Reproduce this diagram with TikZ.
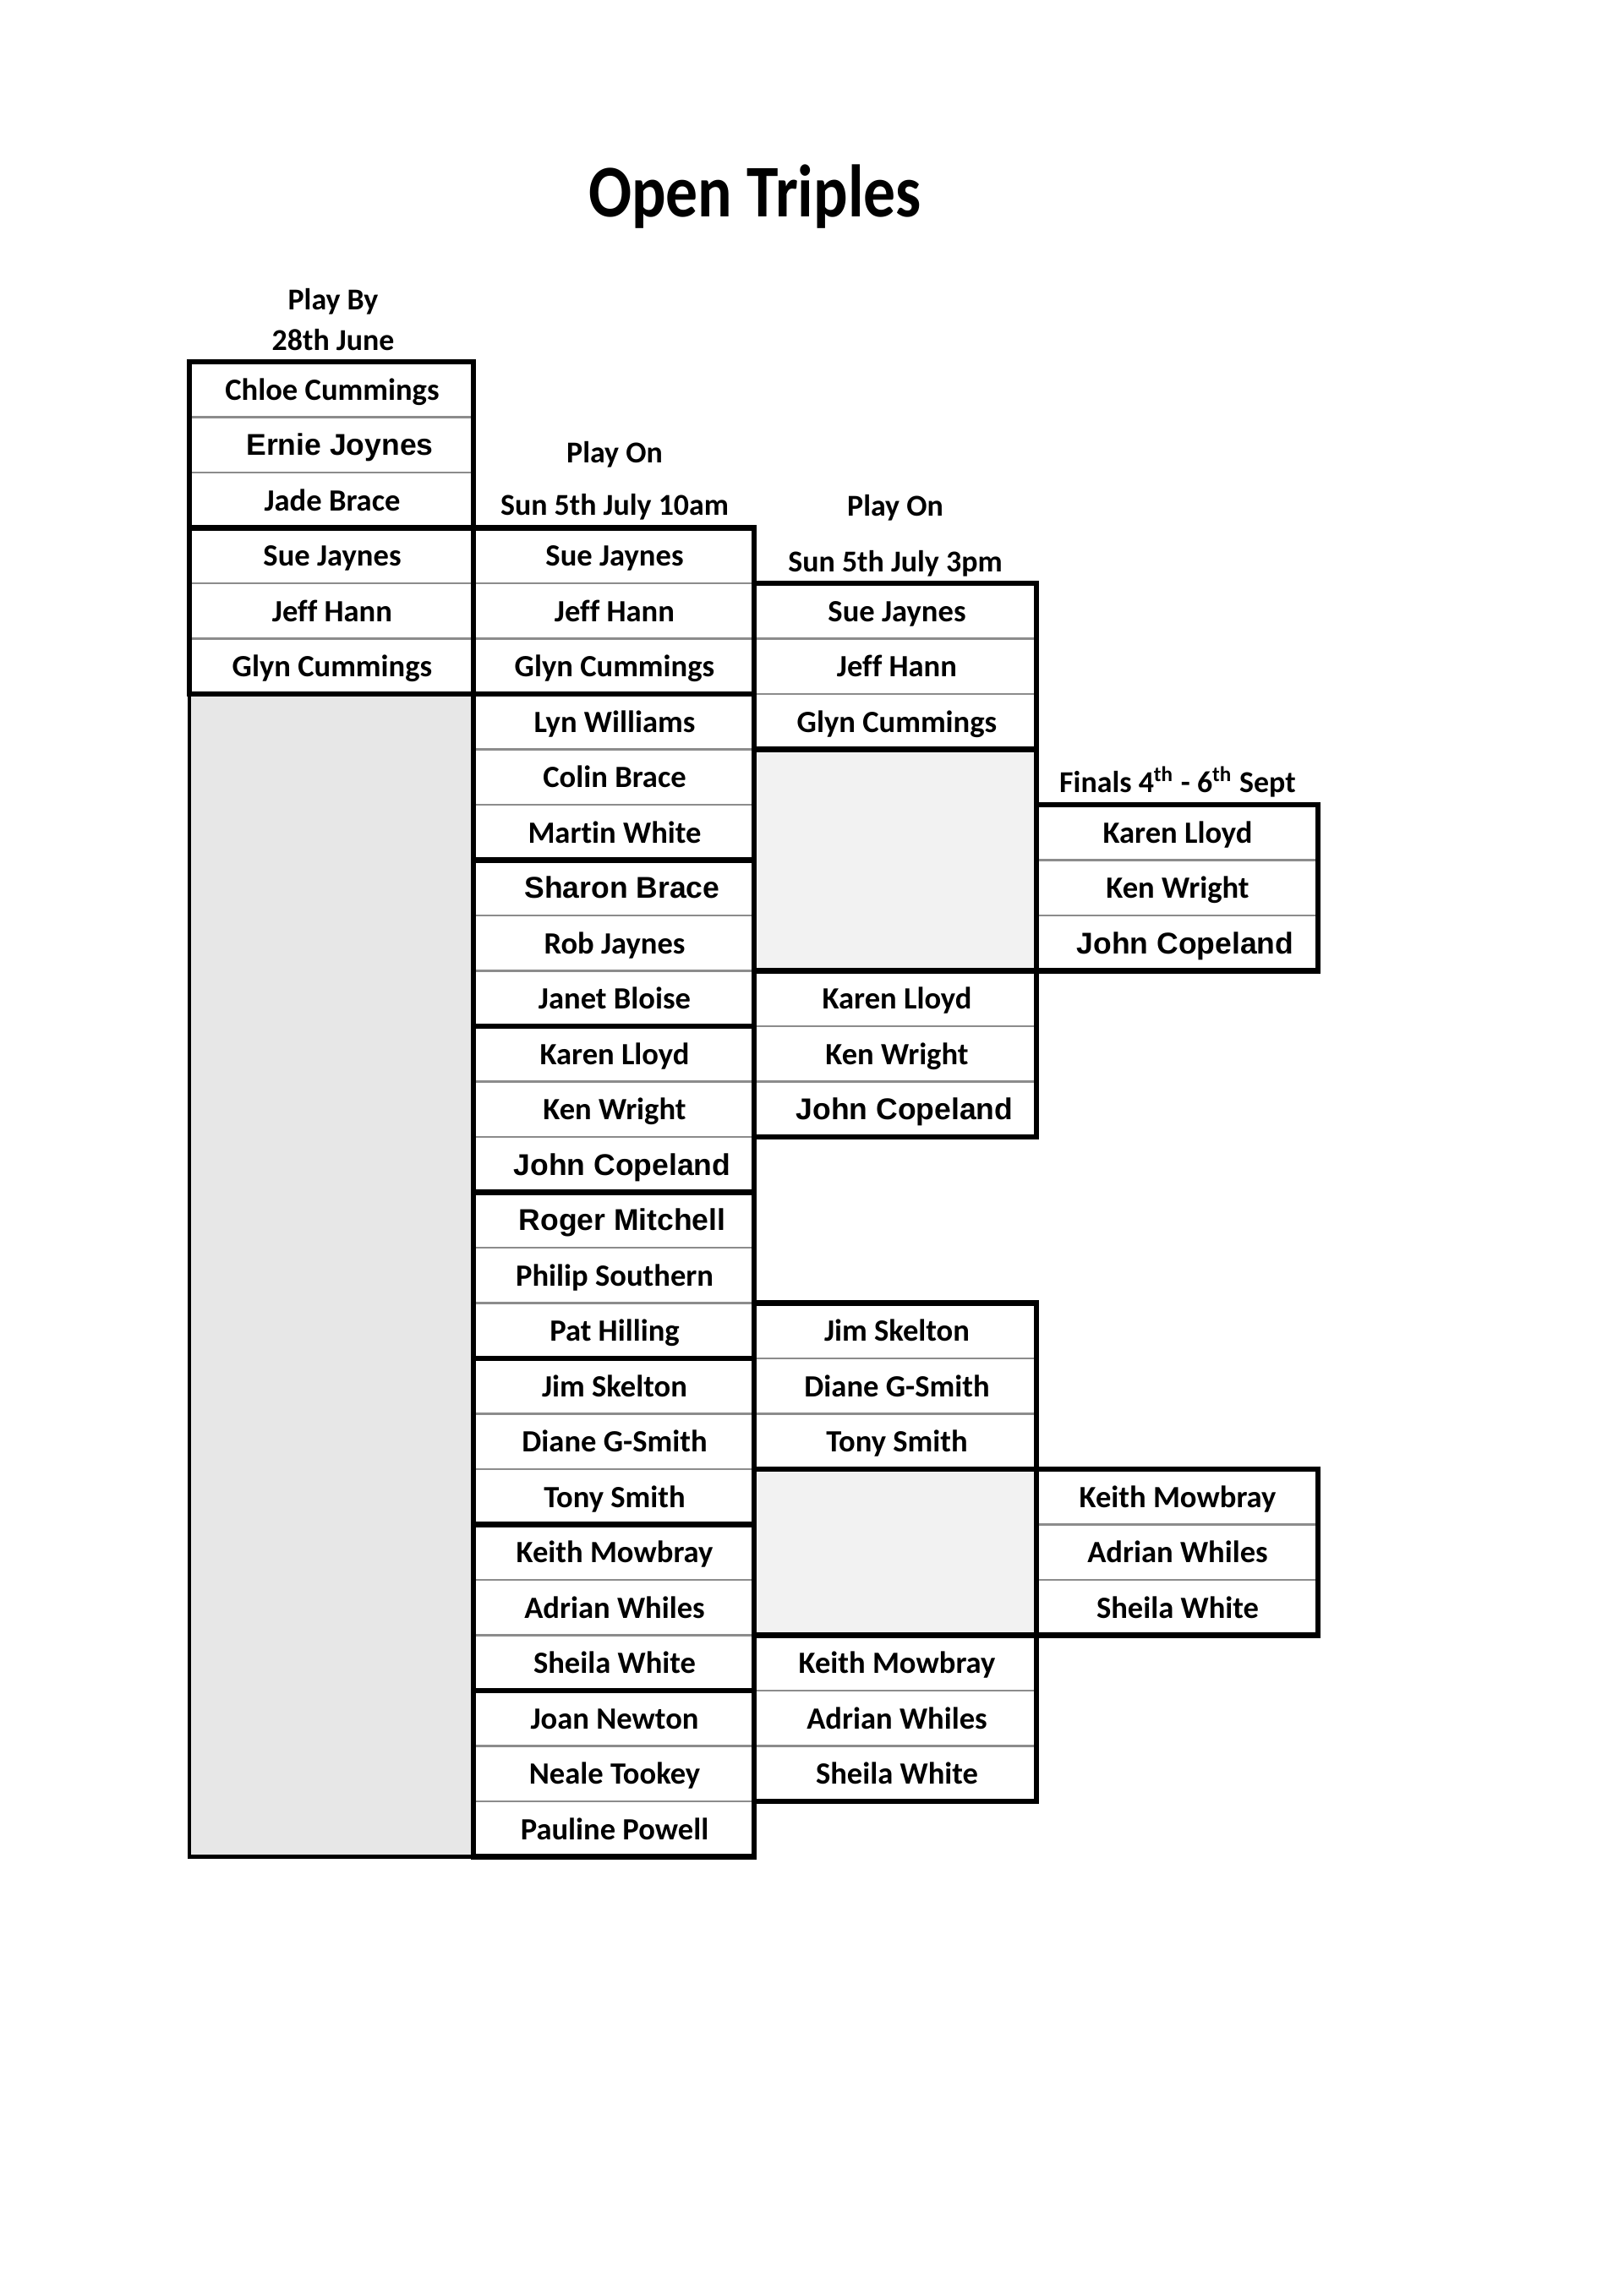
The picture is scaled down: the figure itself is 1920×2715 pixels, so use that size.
\documentclass[tikz,border=0pt]{standalone}
\usepackage{fontspec}
\usepackage{graphicx}
\setmainfont{Carlito}[Ligatures=NoCommon]
\newfontfamily\arialf{Liberation Sans}
\definecolor{greyA}{HTML}{E7E7E7}
\definecolor{greyB}{HTML}{F2F2F2}
\definecolor{rulegrey}{HTML}{8C8C8C}
\newcommand\rowy[1]{428+65.5*(#1)}
\begin{document}
\begin{tikzpicture}[x=0.01cm,y=-0.01cm,
  nm/.style={anchor=base, font=\fontsize{10.4}{12}\selectfont\bfseries, inner sep=0pt},
  ar/.style={anchor=base, font=\fontsize{10.1}{12}\arialf\bfseries, inner sep=0pt, xshift=0.09cm},
  hd/.style={anchor=base, font=\fontsize{10.2}{12}\selectfont\bfseries, inner sep=0pt},
  bk/.style={line width=1.8pt, line cap=rect},
  thn/.style={line width=0.6pt, draw=rulegrey},
]
\useasboundingbox[fill=white] (0,0) rectangle (1920,2715);

% title and headers
\node[anchor=base, font=\fontsize{25}{30}\selectfont\bfseries, inner sep=0pt] (title) at (893,256) {\scalebox{0.86}[1]{Open Triples}};
\node[hd] (h1a) at (394,366) {Play By};
\node[hd] (h1b) at (394,414) {28th June};
\node[hd] (h2a) at (727,547) {Play On};
\node[hd] (h2b) at (727,609) {Sun 5th July 10am};
\node[hd] (h3a) at (1059,610) {Play On};
\node[hd] (h3b) at (1059,676) {Sun 5th July 3pm};
\node[hd] (h4) at (1393,937) {Finals 4\textsuperscript{th} - 6\textsuperscript{th} Sept};

% fills
\filldraw[fill=greyA, line width=1.2pt] (224,{\rowy{6}}) rectangle (560,{\rowy{27}});
\fill[greyB] (892,{\rowy{7}}) rectangle (1226,{\rowy{11}});
\fill[greyB] (892,{\rowy{20}}) rectangle (1226,{\rowy{23}});

% thin separators
\foreach \k in {1,2,4,5} \draw[thn] (224,{\rowy{\k}}) -- (560,{\rowy{\k}});
\foreach \k in {4,5,7,8,10,11,13,14,16,17,19,20,22,23,25,26} \draw[thn] (560,{\rowy{\k}}) -- (892,{\rowy{\k}});
\foreach \k in {5,6,12,13,18,19,24,25} \draw[thn] (892,{\rowy{\k}}) -- (1226,{\rowy{\k}});
\foreach \k in {9,10,21,22} \draw[thn] (1226,{\rowy{\k}}) -- (1559,{\rowy{\k}});

% thick borders
\draw[bk] (224,{\rowy{0}}) rectangle (560,{\rowy{6}});
\draw[bk] (224,{\rowy{3}}) -- (560,{\rowy{3}});
\draw[bk] (560,{\rowy{3}}) rectangle (892,{\rowy{27}});
\foreach \k in {6,9,...,24} \draw[bk] (560,{\rowy{\k}}) -- (892,{\rowy{\k}});
\draw[bk] (892,{\rowy{4}}) rectangle (1226,{\rowy{14}});
\foreach \k in {7,11} \draw[bk] (892,{\rowy{\k}}) -- (1226,{\rowy{\k}});
\draw[bk] (892,{\rowy{17}}) rectangle (1226,{\rowy{26}});
\foreach \k in {20,23} \draw[bk] (892,{\rowy{\k}}) -- (1226,{\rowy{\k}});
\draw[bk] (1226,{\rowy{8}}) rectangle (1559,{\rowy{11}});
\draw[bk] (1226,{\rowy{20}}) rectangle (1559,{\rowy{23}});

% column 1
\node[nm] (a0) at (393,{\rowy{0}+45}) {Chloe Cummings};
\node[ar] (a1) at (393,{\rowy{1}+45}) {Ernie Joynes};
\node[nm] (a2) at (393,{\rowy{2}+45}) {Jade Brace};
\node[nm] (a3) at (393,{\rowy{3}+45}) {Sue Jaynes};
\node[nm] (a4) at (393,{\rowy{4}+45}) {Jeff Hann};
\node[nm] (a5) at (393,{\rowy{5}+45}) {Glyn Cummings};

% column 2
\node[nm] (b3) at (727,{\rowy{3}+45}) {Sue Jaynes};
\node[nm] (b4) at (727,{\rowy{4}+45}) {Jeff Hann};
\node[nm] (b5) at (727,{\rowy{5}+45}) {Glyn Cummings};
\node[nm] (b6) at (727,{\rowy{6}+45}) {Lyn Williams};
\node[nm] (b7) at (727,{\rowy{7}+45}) {Colin Brace};
\node[nm] (b8) at (727,{\rowy{8}+45}) {Martin White};
\node[ar] (b9) at (727,{\rowy{9}+45}) {Sharon Brace};
\node[nm] (b10) at (727,{\rowy{10}+45}) {Rob Jaynes};
\node[nm] (b11) at (727,{\rowy{11}+45}) {Janet Bloise};
\node[nm] (b12) at (727,{\rowy{12}+45}) {Karen Lloyd};
\node[nm] (b13) at (727,{\rowy{13}+45}) {Ken Wright};
\node[ar] (b14) at (727,{\rowy{14}+45}) {John Copeland};
\node[ar] (b15) at (727,{\rowy{15}+45}) {Roger Mitchell};
\node[nm] (b16) at (727,{\rowy{16}+45}) {Philip Southern};
\node[nm] (b17) at (727,{\rowy{17}+45}) {Pat Hilling};
\node[nm] (b18) at (727,{\rowy{18}+45}) {Jim Skelton};
\node[nm] (b19) at (727,{\rowy{19}+45}) {Diane G-Smith};
\node[nm] (b20) at (727,{\rowy{20}+45}) {Tony Smith};
\node[nm] (b21) at (727,{\rowy{21}+45}) {Keith Mowbray};
\node[nm] (b22) at (727,{\rowy{22}+45}) {Adrian Whiles};
\node[nm] (b23) at (727,{\rowy{23}+45}) {Sheila White};
\node[nm] (b24) at (727,{\rowy{24}+45}) {Joan Newton};
\node[nm] (b25) at (727,{\rowy{25}+45}) {Neale Tookey};
\node[nm] (b26) at (727,{\rowy{26}+45}) {Pauline Powell};

% column 3
\node[nm] (c4) at (1061,{\rowy{4}+45}) {Sue Jaynes};
\node[nm] (c5) at (1061,{\rowy{5}+45}) {Jeff Hann};
\node[nm] (c6) at (1061,{\rowy{6}+45}) {Glyn Cummings};
\node[nm] (c11) at (1061,{\rowy{11}+45}) {Karen Lloyd};
\node[nm] (c12) at (1061,{\rowy{12}+45}) {Ken Wright};
\node[ar] (c13) at (1061,{\rowy{13}+45}) {John Copeland};
\node[nm] (c17) at (1061,{\rowy{17}+45}) {Jim Skelton};
\node[nm] (c18) at (1061,{\rowy{18}+45}) {Diane G-Smith};
\node[nm] (c19) at (1061,{\rowy{19}+45}) {Tony Smith};
\node[nm] (c23) at (1061,{\rowy{23}+45}) {Keith Mowbray};
\node[nm] (c24) at (1061,{\rowy{24}+45}) {Adrian Whiles};
\node[nm] (c25) at (1061,{\rowy{25}+45}) {Sheila White};

% column 4 (finals)
\node[nm] (d8) at (1393,{\rowy{8}+45}) {Karen Lloyd};
\node[nm] (d9) at (1393,{\rowy{9}+45}) {Ken Wright};
\node[ar] (d10) at (1393,{\rowy{10}+45}) {John Copeland};
\node[nm] (d20) at (1393,{\rowy{20}+45}) {Keith Mowbray};
\node[nm] (d21) at (1393,{\rowy{21}+45}) {Adrian Whiles};
\node[nm] (d22) at (1393,{\rowy{22}+45}) {Sheila White};
\end{tikzpicture}
\end{document}
